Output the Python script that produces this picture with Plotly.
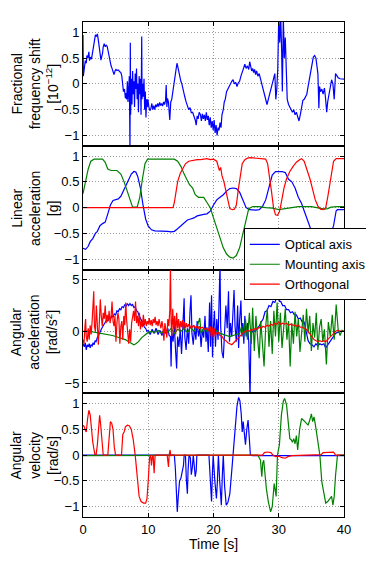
import plotly.graph_objects as go
from plotly.subplots import make_subplots

# (time [s], value) samples
freq_shift = [
    (0.0, 0.95), (0.05, 0.15), (0.2, 0.3), (0.35, 0.45), (0.5, 0.4), (0.6, 0.55), (0.75, 0.5), (0.9, 0.62),
    (1.0, 0.45), (1.15, 0.52), (1.3, 0.48), (1.45, 0.6), (1.6, 0.78), (1.75, 0.88), (1.9, 0.95), (2.05, 0.92),
    (2.2, 0.97), (2.35, 0.85), (2.5, 0.72), (2.6, 0.58), (2.75, 0.46), (2.85, 0.52), (3.0, 0.6), (3.1, 0.72),
    (3.25, 0.78), (3.4, 0.72), (3.55, 0.75), (3.7, 0.73), (3.85, 0.62), (4.0, 0.5), (4.15, 0.42), (4.3, 0.35),
    (4.45, 0.3), (4.6, 0.22), (4.75, 0.18), (4.9, 0.25), (5.05, 0.28), (5.2, 0.26), (5.4, 0.27), (5.6, 0.24),
    (5.8, 0.22), (5.95, 0.15), (6.1, 0.0), (6.2, -0.15), (6.35, -0.1), (6.5, -0.28), (6.6, -0.18), (6.7, -0.3),
    (6.8, 0.05), (6.9, -0.35), (7.0, -0.1), (7.1, 0.15), (7.2, -1.3), (7.25, 0.8), (7.3, -0.6), (7.4, 0.1),
    (7.5, -0.4), (7.6, 0.25), (7.7, -0.2), (7.8, 0.05), (7.9, -0.45), (8.0, 0.2), (8.1, -0.1), (8.2, 0.3),
    (8.3, -0.3), (8.4, 0.0), (8.5, -0.55), (8.6, 0.15), (8.7, -0.2), (8.8, 0.1), (8.9, -0.6), (9.0, 0.92),
    (9.05, -0.3), (9.15, 0.0), (9.25, -0.25), (9.35, 0.1), (9.45, -0.5), (9.55, -0.15), (9.65, -0.65), (9.75, -0.3),
    (9.85, -0.45), (9.95, -0.3), (10.1, -0.45), (10.25, -0.52), (10.4, -0.48), (10.55, -0.38), (10.7, -0.5),
    (10.85, -0.42), (11.0, -0.5), (11.15, -0.4), (11.3, -0.45), (11.45, -0.38), (11.6, -0.44), (11.75, -0.36),
    (11.9, -0.42), (12.05, -0.38), (12.2, -0.43), (12.35, -0.35), (12.5, -0.4), (12.65, -0.32), (12.75, -0.02),
    (12.85, -0.45), (12.95, -0.28), (13.1, -0.36), (13.3, -0.7), (13.45, -0.35), (13.6, -0.3), (13.8, -0.1),
    (14.0, 0.1), (14.2, 0.25), (14.4, 0.4), (14.55, 0.32), (14.7, 0.22), (14.85, 0.15), (15.0, 0.05),
    (15.15, 0.0), (15.3, -0.1), (15.45, -0.18), (15.6, -0.25), (15.8, -0.35), (16.0, -0.42), (16.2, -0.5),
    (16.4, -0.46), (16.6, -0.56), (16.8, -0.55), (17.0, -0.62), (17.2, -0.7), (17.35, -0.8), (17.5, -0.62),
    (17.65, -0.68), (17.8, -0.55), (18.0, -0.6), (18.15, -0.72), (18.3, -0.58), (18.45, -0.68), (18.6, -0.6),
    (18.75, -0.72), (18.9, -0.55), (19.05, -0.7), (19.2, -0.62), (19.35, -0.8), (19.5, -0.65), (19.65, -0.85),
    (19.8, -0.72), (19.95, -0.9), (20.1, -0.7), (20.25, -0.95), (20.4, -0.8), (20.55, -1.0), (20.7, -0.85),
    (20.85, -0.9), (21.0, -0.75), (21.15, -0.85), (21.3, -0.6), (21.5, -0.5), (21.65, -0.35), (21.8, -0.3),
    (22.0, -0.15), (22.2, -0.1), (22.4, -0.05), (22.6, 0.02), (22.8, 0.05), (23.0, 0.08), (23.2, 0.0),
    (23.4, 0.03), (23.6, -0.05), (23.8, 0.02), (24.0, 0.05), (24.2, 0.15), (24.4, 0.25), (24.6, 0.3),
    (24.8, 0.38), (25.0, 0.3), (25.2, 0.35), (25.4, 0.28), (25.55, 0.43), (25.7, 0.32), (25.85, 0.25),
    (26.0, 0.3), (26.15, 0.22), (26.3, 0.28), (26.45, 0.18), (26.6, 0.25), (26.8, 0.15), (27.0, 0.2),
    (27.2, 0.1), (27.4, 0.0), (27.6, -0.1), (27.8, -0.25), (28.0, -0.35), (28.2, -0.4), (28.4, -0.3),
    (28.6, -0.2), (28.8, -0.1), (29.0, 0.0), (29.2, 0.1), (29.4, 0.2), (29.55, -0.3), (29.7, -0.1),
    (29.85, 0.3), (30.0, 1.3), (30.15, 0.8), (30.3, 1.3), (30.45, 0.6), (30.55, -0.15), (30.7, 1.3),
    (30.85, 0.5), (31.0, 0.9), (31.15, 0.2), (31.3, -0.3), (31.5, -0.4), (31.7, -0.45), (31.9, -0.48),
    (32.1, -0.55), (32.3, -0.5), (32.5, -0.6), (32.7, -0.55), (32.9, -0.65), (33.1, -0.72), (33.3, -0.6),
    (33.5, -0.45), (33.7, -0.32), (33.9, -0.3), (34.1, -0.25), (34.3, -0.2), (34.5, -0.05), (34.7, 0.1),
    (34.9, 0.3), (35.1, 0.45), (35.3, 0.52), (35.5, 0.55), (35.7, 0.5), (35.85, 0.35), (36.0, 0.2),
    (36.15, -0.47), (36.25, -0.05), (36.4, -0.15), (36.6, -0.1), (36.8, -0.2), (37.0, -0.08), (37.15, -0.25),
    (37.35, -0.55), (37.5, -0.35), (37.7, -0.2), (37.9, -0.05), (38.1, 0.08), (38.3, 0.0), (38.5, -0.3),
    (38.7, 0.2), (38.9, 0.15), (39.1, 0.12), (39.4, 0.1), (39.7, 0.1), (40.0, 0.09),
]

lin_optical = [
    (0, -0.79), (0.4, -0.81), (0.8, -0.75), (1.1, -0.66), (1.5, -0.6), (1.9, -0.5), (2.2, -0.46), (2.6, -0.35),
    (3.0, -0.31), (3.4, -0.28), (3.8, -0.12), (4.2, 0.05), (4.6, 0.14), (5.0, 0.16), (5.4, 0.17), (5.8, 0.22),
    (6.2, 0.32), (6.6, 0.42), (7.0, 0.55), (7.4, 0.65), (7.8, 0.7), (8.1, 0.69), (8.4, 0.6), (8.8, 0.38),
    (9.2, 0.05), (9.6, -0.22), (10.0, -0.36), (10.5, -0.43), (11.0, -0.45), (12.0, -0.45), (13.0, -0.46),
    (13.5, -0.47), (14.0, -0.46), (14.5, -0.41), (15.0, -0.35), (15.5, -0.29), (16.0, -0.24), (16.5, -0.22),
    (17.0, -0.2), (17.5, -0.16), (18.0, -0.14), (18.5, -0.13), (19.0, -0.12), (19.5, -0.07), (20.0, 0.05),
    (20.5, 0.15), (21.0, 0.2), (21.5, 0.25), (22.0, 0.32), (22.5, 0.37), (23.0, 0.38), (23.5, 0.37),
    (24.0, 0.3), (24.5, 0.15), (25.0, 0.0), (25.5, -0.04), (26.0, -0.05), (26.5, -0.05), (27.0, -0.04),
    (27.5, 0.02), (28.0, 0.15), (28.5, 0.42), (29.0, 0.63), (29.5, 0.7), (30.0, 0.7), (30.5, 0.7),
    (31.0, 0.68), (31.5, 0.55), (32.0, 0.5), (32.5, 0.38), (33.0, 0.2), (33.5, 0.08), (34.0, -0.1),
    (34.5, -0.28), (35.0, -0.46), (35.5, -0.65), (36.0, -0.8), (36.5, -0.87), (37.0, -0.85), (37.5, -0.7),
    (38.0, -0.5), (38.4, -0.35), (38.8, -0.06), (39.0, -0.04), (40.0, -0.04),
]
lin_mounting = [
    (0, 0.27), (0.4, 0.5), (0.8, 0.75), (1.2, 0.9), (1.7, 0.94), (3.0, 0.94), (3.4, 0.88), (3.8, 0.75),
    (4.3, 0.72), (5.2, 0.72), (5.8, 0.65), (6.3, 0.5), (6.8, 0.3), (7.3, 0.1), (7.6, 0.01), (8.3, 0.01),
    (8.7, 0.2), (9.1, 0.55), (9.5, 0.85), (9.9, 0.94), (14.0, 0.94), (14.5, 0.9), (15.0, 0.8), (15.5, 0.65),
    (15.9, 0.55), (16.3, 0.45), (16.8, 0.38), (17.2, 0.25), (17.7, 0.2), (18.5, 0.2), (19.0, 0.1),
    (19.5, 0.0), (20.0, -0.2), (20.5, -0.4), (21.0, -0.6), (21.5, -0.78), (22.0, -0.9), (22.5, -0.96),
    (23.0, -0.98), (23.5, -0.93), (24.0, -0.78), (24.5, -0.5), (25.0, -0.2), (25.4, -0.02), (26.0, 0.02),
    (27.0, 0.02), (28.0, 0.0), (29.0, -0.01), (30.0, -0.04), (31.0, -0.02), (32.0, 0.0), (33.0, 0.02),
    (35.0, 0.02), (36.0, 0.0), (37.0, -0.03), (37.5, -0.02), (38.0, 0.01), (39.0, 0.02), (40.0, 0.02),
]
lin_orthogonal = [
    (0, 0.0), (13.8, 0.0), (14.0, 0.1), (14.2, 0.3), (14.5, 0.5), (14.9, 0.66), (15.3, 0.76), (15.7, 0.85),
    (16.2, 0.9), (16.8, 0.92), (17.5, 0.93), (18.0, 0.93), (18.5, 0.94), (19.0, 0.95), (19.5, 0.93),
    (20.0, 0.94), (20.5, 0.9), (20.7, 0.8), (20.9, 0.72), (21.1, 0.78), (21.3, 0.62), (21.6, 0.5),
    (21.9, 0.35), (22.2, 0.15), (22.5, -0.02), (22.9, -0.04), (23.2, -0.03), (23.5, 0.05), (23.8, 0.35),
    (24.1, 0.65), (24.4, 0.85), (24.8, 0.93), (25.2, 0.96), (25.6, 0.97), (26.5, 0.96), (27.5, 0.95),
    (28.0, 0.94), (28.3, 0.85), (28.6, 0.6), (28.9, 0.3), (29.2, 0.0), (29.5, -0.14), (29.8, -0.15),
    (30.1, -0.08), (30.4, 0.1), (30.8, 0.38), (31.2, 0.56), (31.7, 0.7), (32.2, 0.8), (32.7, 0.88),
    (33.2, 0.93), (33.5, 0.95), (33.9, 0.9), (34.3, 0.75), (34.8, 0.55), (35.2, 0.35), (35.6, 0.15),
    (36.0, 0.03), (36.4, -0.03), (36.8, -0.04), (37.2, 0.0), (37.5, 0.2), (37.8, 0.45), (38.1, 0.72),
    (38.4, 0.9), (38.8, 0.95), (40.0, 0.95),
]

ang_acc_optical = [
    (0.0, -1.2), (0.2, -1.5), (0.35, -1.1), (0.5, -1.8), (0.65, -1.3), (0.8, -1.5), (0.95, -1.2), (1.1, -1.6),
    (1.25, -1.3), (1.4, -1.4), (1.55, -1.1), (1.7, -1.3), (1.85, -0.9), (2.0, -1.0), (2.2, -0.6), (2.4, -0.4),
    (2.6, -0.1), (2.8, 0.2), (3.0, 0.4), (3.2, 0.7), (3.4, 0.8), (3.6, 1.1), (3.8, 1.0), (4.0, 1.3),
    (4.2, 1.2), (4.4, 1.5), (4.6, 1.4), (4.8, 1.7), (5.0, 1.6), (5.2, 2.0), (5.4, 1.9), (5.6, 2.2),
    (5.8, 2.1), (6.0, 2.4), (6.2, 2.3), (6.4, 2.6), (6.6, 2.4), (6.8, 2.7), (7.0, 2.5), (7.2, 2.7),
    (7.4, 2.5), (7.6, 2.6), (7.8, 2.3), (8.0, 2.4), (8.2, 2.0), (8.4, 1.9), (8.6, 1.5), (8.8, 1.3),
    (9.0, 1.0), (9.2, 0.8), (9.4, 0.4), (9.6, 0.3), (9.8, 0.0), (10.0, 0.1), (10.3, -0.3), (10.6, 0.2),
    (10.9, -0.2), (11.2, 0.3), (11.5, -0.3), (11.8, 0.1), (12.1, -0.4), (12.4, 0.2), (12.7, -0.2),
    (13.0, 0.3), (13.2, -0.4), (13.4, -0.5), (13.5, -3.4), (13.6, 0.0), (13.8, -1.0), (14.0, 0.5),
    (14.2, -2.0), (14.35, -3.6), (14.5, -0.5), (14.7, -1.5), (14.9, 0.2), (15.1, -2.2), (15.3, 0.5),
    (15.5, 3.2), (15.6, -0.5), (15.8, -1.8), (16.0, 0.3), (16.2, -1.2), (16.4, 2.0), (16.55, 3.5),
    (16.7, -0.2), (16.9, -1.3), (17.1, 0.5), (17.3, -0.8), (17.5, 1.0), (17.7, -0.5), (17.9, 0.3),
    (18.1, -1.5), (18.3, 0.2), (18.5, -0.6), (18.7, 1.5), (18.85, -1.0), (19.0, 0.4), (19.2, -2.0),
    (19.4, 2.8), (19.55, -1.5), (19.7, 3.5), (19.85, -2.5), (20.0, 0.5), (20.15, 2.0), (20.3, -1.5),
    (20.5, 1.2), (20.7, -0.8), (20.9, 4.5), (21.0, 6.5), (21.1, 0.5), (21.3, -2.0), (21.5, -2.6),
    (21.7, 0.5), (21.9, 2.5), (22.1, 0.3), (22.3, 3.9), (22.45, -1.0), (22.6, 0.8), (22.8, -0.5),
    (23.0, 2.0), (23.15, 4.0), (23.3, 0.5), (23.5, -1.0), (23.7, 2.5), (23.85, -1.6), (24.0, 1.0),
    (24.2, 3.0), (24.35, -0.5), (24.5, 0.8), (24.65, -1.2), (24.8, 1.5), (25.0, -0.5), (25.2, 0.8),
    (25.4, -1.0), (25.6, -6.5), (25.75, 0.2), (25.9, -0.1), (26.1, 0.1), (26.4, 0.0), (26.7, 0.3),
    (27.0, 0.5), (27.3, 0.9), (27.6, 1.2), (27.9, 1.9), (28.2, 2.0), (28.5, 2.5), (28.8, 2.4),
    (29.1, 2.9), (29.4, 2.8), (29.7, 3.3), (29.9, 4.0), (30.1, 2.9), (30.3, 2.9), (30.6, 2.5),
    (30.9, 2.5), (31.2, 2.1), (31.5, 2.1), (31.8, 1.8), (32.1, 1.9), (32.4, 1.6), (32.7, 1.6),
    (33.0, 1.2), (33.3, 1.3), (33.6, 0.9), (33.9, 0.9), (34.1, 0.3), (34.3, -0.4), (34.5, -0.9),
    (34.8, -1.2), (35.1, -1.3), (35.4, -1.5), (35.7, -1.2), (36.0, -1.4), (36.3, -1.2), (36.6, -1.3),
    (36.9, -1.2), (37.2, -1.6), (37.5, -1.3), (37.8, -1.0), (38.1, -0.7), (38.4, -0.4), (38.7, -0.2),
    (39.0, -0.1), (39.5, 0.0), (40.0, 0.0),
]
ang_acc_mounting = [
    (0.0, 0.0), (0.5, 0.0), (1.0, 0.05), (1.5, -0.05), (2.0, -0.1), (2.5, -0.15), (3.0, -0.2), (3.5, -0.25),
    (4.0, -0.3), (4.5, -0.4), (5.0, -0.5), (5.5, -0.6), (6.0, -0.7), (6.5, -0.8), (7.0, -1.0), (7.5, -1.2),
    (7.8, -1.3), (8.1, -1.2), (8.5, -1.0), (9.0, -0.6), (9.5, -0.3), (10.0, -0.1), (10.5, 0.0), (11.0, -0.1),
    (11.5, 0.1), (12.0, -0.2), (12.5, 0.2), (13.0, -0.1), (13.5, 0.3), (14.0, -0.2), (14.5, 0.2),
    (15.0, 0.0), (15.5, 0.3), (16.0, -0.1), (16.5, 0.4), (17.0, 0.0), (17.5, 0.5), (17.9, 1.3),
    (18.1, -0.2), (18.5, 0.3), (19.0, 0.0), (19.5, 0.2), (20.0, -0.1), (20.5, 0.1), (21.0, -0.2),
    (21.5, -0.3), (22.0, -0.4), (22.5, -0.5), (23.0, -0.4), (23.5, -0.3), (24.0, -0.2), (24.3, 0.5),
    (24.6, -0.5), (24.9, 1.2), (25.2, -0.8), (25.5, 1.8), (25.8, -1.2), (26.0, 2.3), (26.25, -1.9),
    (26.5, 1.5), (26.75, -0.5), (27.0, -2.6), (27.25, 1.0), (27.5, -0.8), (27.75, -3.4), (28.0, 0.5),
    (28.25, 2.2), (28.5, -1.5), (28.75, 1.0), (29.0, -2.2), (29.25, 2.0), (29.5, -0.5), (29.75, 2.8),
    (30.0, -1.0), (30.25, 1.8), (30.5, -1.6), (30.75, 0.5), (31.0, 2.2), (31.25, -0.8), (31.5, 1.0),
    (31.75, -3.4), (32.0, 0.8), (32.25, -1.2), (32.5, 1.9), (32.75, -0.5), (33.0, 1.2), (33.25, -2.0),
    (33.5, 0.3), (33.75, 1.6), (34.0, -1.0), (34.25, 2.2), (34.5, -0.2), (34.75, 1.5), (35.0, -1.9),
    (35.25, 0.8), (35.5, -0.6), (35.75, 1.8), (36.0, -1.8), (36.25, 0.4), (36.5, 1.2), (36.75, -1.0),
    (37.0, 0.2), (37.3, -3.2), (37.6, 0.9), (37.9, -0.5), (38.2, 1.6), (38.5, -0.8), (38.8, 2.6),
    (39.1, 0.2), (39.4, -0.4), (39.7, 0.1), (40.0, 0.0),
]
ang_acc_orthogonal = [
    (0.0, -0.8), (0.15, -1.2), (0.3, 0.5), (0.4, 1.2), (0.5, -0.5), (0.65, -1.0), (0.8, 0.3), (0.95, -0.8),
    (1.1, 0.6), (1.25, -0.3), (1.4, 1.0), (1.55, 2.2), (1.65, 3.9), (1.75, 0.5), (1.9, 0.0), (2.05, 2.5),
    (2.2, 1.0), (2.35, -1.3), (2.5, 0.8), (2.65, 3.1), (2.8, 1.5), (2.95, 0.5), (3.1, 1.8), (3.25, 1.2),
    (3.4, 2.5), (3.55, 0.8), (3.7, 1.6), (3.85, 1.0), (4.0, 2.0), (4.15, 0.8), (4.3, 1.4), (4.45, 2.9),
    (4.6, 1.0), (4.75, 0.5), (4.9, 1.5), (5.05, -1.0), (5.2, 0.8), (5.35, 1.8), (5.5, 1.2), (5.65, -1.2),
    (5.8, 0.5), (5.95, 1.0), (6.1, -0.8), (6.25, 1.5), (6.4, 0.6), (6.55, 2.8), (6.7, 1.0), (6.85, -0.5),
    (7.0, -1.2), (7.15, 0.2), (7.3, -1.0), (7.45, 0.8), (7.6, 1.5), (7.75, 2.0), (7.9, 1.0), (8.05, 2.9),
    (8.2, 0.8), (8.35, 1.5), (8.5, 0.5), (8.65, 1.8), (8.8, 0.2), (8.95, 1.0), (9.1, 0.4), (9.25, 1.6),
    (9.4, 0.6), (9.55, 1.2), (9.7, 0.5), (9.85, 1.0), (10.0, 0.7), (10.15, 1.3), (10.3, 0.6), (10.45, 1.1),
    (10.6, 0.5), (10.75, 1.2), (10.9, 0.8), (11.05, 1.4), (11.2, 0.6), (11.35, 1.0), (11.5, 0.5),
    (11.65, 1.2), (11.8, 0.7), (11.95, 0.3), (12.1, 1.0), (12.25, 0.4), (12.4, -0.9), (12.55, 0.8),
    (12.7, 0.2), (12.85, -0.6), (13.0, 1.2), (13.15, 0.5), (13.3, 2.0), (13.4, 6.5), (13.5, 1.0),
    (13.6, -0.5), (13.75, 2.2), (13.9, 0.2), (14.05, 1.5), (14.2, -0.3), (14.35, 1.8), (14.5, 0.3),
    (14.65, 1.2), (14.8, 0.0), (14.95, 1.0), (15.1, 0.4), (15.25, 1.1), (15.4, 0.2), (15.55, 0.9),
    (15.7, 0.3), (15.85, 0.8), (16.0, 0.4), (16.2, 0.7), (16.4, 0.3), (16.6, 0.6), (16.8, 0.4),
    (17.0, 0.6), (17.2, 0.3), (17.4, 0.5), (17.6, 0.2), (17.8, 0.5), (18.0, 0.3), (18.3, 0.4),
    (18.6, 0.2), (18.9, 0.3), (19.2, 0.1), (19.5, 0.5), (19.65, -0.5), (19.8, 0.4), (19.95, -0.6),
    (20.1, 0.3), (20.25, -0.5), (20.4, -0.2), (20.7, -0.1), (21.0, -0.4), (21.3, -0.5), (21.6, -0.8),
    (21.9, -0.9), (22.2, -1.1), (22.5, -1.2), (22.8, -1.3), (23.1, -1.1), (23.4, -0.9), (23.7, -0.6),
    (24.0, -0.4), (24.3, -0.2), (24.6, -0.1), (24.9, 0.0), (25.2, 0.1), (25.5, 0.0), (25.8, 0.2),
    (26.1, 0.1), (26.4, 0.3), (26.7, 0.2), (27.0, 0.4), (27.3, 0.3), (27.6, 0.5), (27.9, 0.4),
    (28.2, 0.6), (28.5, 0.5), (28.8, 0.7), (29.1, 0.6), (29.4, 0.8), (29.7, 0.7), (30.0, 0.9),
    (30.3, 0.7), (30.6, 0.8), (30.9, 0.7), (31.2, 0.8), (31.5, 0.6), (31.8, 0.7), (32.1, 0.6),
    (32.4, 0.6), (32.7, 0.5), (33.0, 0.6), (33.3, 0.4), (33.6, 0.4), (33.9, 0.3), (34.2, 0.2),
    (34.5, 0.0), (34.8, -0.3), (35.1, -0.6), (35.4, -0.8), (35.7, -0.9), (36.0, -1.0), (36.3, -0.9),
    (36.6, -1.0), (36.9, -0.9), (37.2, -1.0), (37.5, -0.8), (37.8, -0.6), (38.1, -0.3), (38.4, -0.1),
    (38.7, 0.0), (39.0, 0.1), (39.5, 0.0), (40.0, 0.0),
]

vel_optical = [
    (0, 0.0), (14.0, 0.0), (14.15, -0.25), (14.3, -0.75), (14.45, -1.1), (14.6, -0.8), (14.8, -0.5),
    (15.0, -0.45), (15.2, -0.35), (15.4, -0.2), (15.5, 0.0), (15.7, 0.0), (15.85, -0.5), (16.0, -0.75),
    (16.1, -0.3), (16.25, 0.0), (16.45, -0.05), (16.6, -0.38), (16.75, -0.25), (16.9, 0.0), (17.05, -0.2),
    (17.2, -0.42), (17.35, -0.3), (17.45, 0.0), (19.3, 0.0), (19.5, -0.6), (19.7, -0.9), (19.85, -0.3),
    (19.95, 0.0), (20.2, -0.5), (20.45, -0.84), (20.6, -0.5), (20.75, 0.0), (20.95, -0.5), (21.2, -0.97),
    (21.35, -0.4), (21.5, 0.0), (21.7, -0.6), (21.95, -0.97), (22.2, -0.92), (22.5, -0.75), (22.8, -0.3),
    (23.0, 0.0), (23.3, 0.55), (23.6, 0.95), (23.85, 1.12), (24.05, 1.05), (24.25, 0.8), (24.4, 0.45),
    (24.55, 0.65), (24.75, 0.35), (24.9, 0.2), (25.1, 0.5), (25.3, 0.68), (25.5, 0.3), (25.65, 0.0),
    (26.0, -0.01), (40.0, -0.01),
]
vel_mounting = [
    (0, -0.01), (26.8, 0.0), (27.0, -0.05), (27.2, -0.1), (27.4, -0.42), (27.55, -0.15), (27.7, -0.1),
    (27.9, -0.45), (28.1, -0.65), (28.4, -0.9), (28.75, -1.1), (29.0, -1.0), (29.3, -0.55), (29.6, -0.8),
    (29.8, 0.0), (30.1, 0.2), (30.4, 0.77), (30.7, 1.05), (30.9, 1.1), (31.2, 0.97), (31.5, 0.6),
    (31.7, 0.32), (31.9, 0.3), (32.1, 0.25), (32.3, 0.32), (32.5, 0.22), (32.7, 0.38), (32.9, 0.1),
    (33.2, 0.5), (33.5, 0.71), (34.0, 0.65), (34.5, 0.58), (34.8, 0.7), (35.0, 0.8), (35.2, 0.65),
    (35.4, 0.74), (35.6, 0.6), (35.9, 0.3), (36.3, 0.0), (36.6, -0.52), (36.9, -0.77), (37.2, -0.93),
    (37.5, -0.9), (37.8, -0.85), (38.1, -0.8), (38.3, -0.97), (38.5, -0.8), (38.7, -0.4), (39.0, 0.0),
    (40.0, 0.0),
]
vel_orthogonal = [
    (0, 0.58), (0.2, 0.55), (0.35, 0.48), (0.5, 0.45), (0.7, 0.7), (0.9, 0.87), (1.1, 0.78), (1.3, 0.5),
    (1.5, 0.25), (1.8, 0.02), (2.0, 0.0), (2.2, 0.2), (2.4, 0.62), (2.55, 0.77), (2.7, 0.6), (2.9, 0.2),
    (3.1, 0.0), (3.8, 0.0), (4.0, 0.4), (4.2, 0.65), (4.4, 0.62), (4.6, 0.5), (4.8, 0.15), (5.0, 0.0),
    (5.9, 0.0), (6.1, 0.4), (6.3, 0.45), (6.5, 0.55), (6.8, 0.58), (7.1, 0.57), (7.4, 0.5), (7.7, 0.3),
    (8.0, 0.0), (8.2, -0.3), (8.4, -0.6), (8.6, -0.8), (8.9, -0.9), (9.3, -0.93), (9.6, -0.93),
    (9.8, -0.85), (10.0, -0.5), (10.2, -0.05), (10.35, 0.0), (10.5, -0.2), (10.6, -0.05), (10.75, 0.0),
    (10.9, -0.35), (11.05, 0.0), (12.9, 0.0), (13.0, -0.2), (13.1, -0.23), (13.2, 0.0), (13.35, 0.1),
    (13.45, -0.02), (13.6, 0.0), (27.5, 0.0), (27.8, 0.05), (28.2, 0.06), (28.8, 0.05), (29.1, 0.0),
    (29.5, -0.03), (30.0, -0.02), (30.5, -0.05), (31.0, -0.06), (31.4, -0.03), (32.0, -0.01),
    (36.5, 0.01), (36.8, 0.05), (37.5, 0.06), (38.4, 0.06), (38.7, 0.0), (40.0, 0.0),
]

series_names = ["Optical axis", "Mounting axis", "Orthogonal"]
series_colors = ["#0000ff", "#008000", "#ff0000"]
time_ticks = [0, 10, 20, 30, 40]

FONT = "Liberation Sans, Arial, Helvetica, sans-serif"

fig = make_subplots(rows=4, cols=1, shared_xaxes=True, vertical_spacing=0)


def add_line(points, row, name, color, legend=False):
    xs = [p[0] for p in points]
    ys = [p[1] for p in points]
    fig.add_trace(go.Scatter(x=xs, y=ys, mode="lines", name=name, legendgroup=name,
                             showlegend=legend, line=dict(color=color, width=1.2)),
                  row=row, col=1)


add_line(freq_shift, 1, "Fractional frequency shift", "#0000ff")
for pts, nm, col in zip([lin_optical, lin_mounting, lin_orthogonal], series_names, series_colors):
    add_line(pts, 2, nm, col, legend=True)
for pts, nm, col in zip([ang_acc_optical, ang_acc_mounting, ang_acc_orthogonal], series_names, series_colors):
    add_line(pts, 3, nm, col)
for pts, nm, col in zip([vel_optical, vel_mounting, vel_orthogonal], series_names, series_colors):
    add_line(pts, 4, nm, col)

axis_style = dict(showline=True, linecolor="black", linewidth=1, mirror="ticks",
                  ticks="inside", ticklen=4, tickcolor="black", zeroline=False,
                  showgrid=True, gridcolor="#9a9a9a", griddash="1px,2px", gridwidth=1,
                  tickfont=dict(size=13, color="black", family=FONT))

fig.update_xaxes(range=[0, 40], tickvals=time_ticks, **axis_style)
y_ranges = [[-1.2, 1.2], [-1.2, 1.2], [-6, 6], [-1.2, 1.2]]
y_ticks = [[-1, -0.5, 0, 0.5, 1], [-1, -0.5, 0, 0.5, 1], [-5, 0, 5], [-1, -0.5, 0, 0.5, 1]]
for i in range(4):
    fig.update_yaxes(range=y_ranges[i], tickvals=y_ticks[i], row=i + 1, col=1, **axis_style)

y_titles = [
    "Fractional<br>frequency shift<br>[10<sup>−12</sup>]",
    "Linear<br>acceleration<br>[g]",
    "Angular<br>acceleration<br>[rad/s<sup>2</sup>]",
    "Angular<br>velocity<br>[rad/s]",
]
for i, txt in enumerate(y_titles):
    yref = "y domain" if i == 0 else f"y{i + 1} domain"
    fig.add_annotation(text=txt, textangle=-90, xref="paper", yref=yref, x=-0.186, y=0.5,
                       xanchor="center", yanchor="middle", showarrow=False,
                       font=dict(size=14, color="black", family=FONT))

fig.add_annotation(text="Time [s]", xref="paper", yref="paper", x=0.5, y=-0.055,
                   xanchor="center", yanchor="middle", showarrow=False,
                   font=dict(size=14, color="black", family=FONT))

# the page body has an 8px default margin, so the figure is sized to fit
fig.update_layout(
    width=366, height=554,
    margin=dict(l=75, r=30, t=14, b=45, autoexpand=False),
    paper_bgcolor="white", plot_bgcolor="white",
    font=dict(family=FONT, color="black"),
    legend=dict(x=0.616, y=0.583, xanchor="left", yanchor="top", bgcolor="white",
                bordercolor="black", borderwidth=1, font=dict(size=13, color="black"),
                tracegroupgap=0),
)

fig.write_html("out.html")
